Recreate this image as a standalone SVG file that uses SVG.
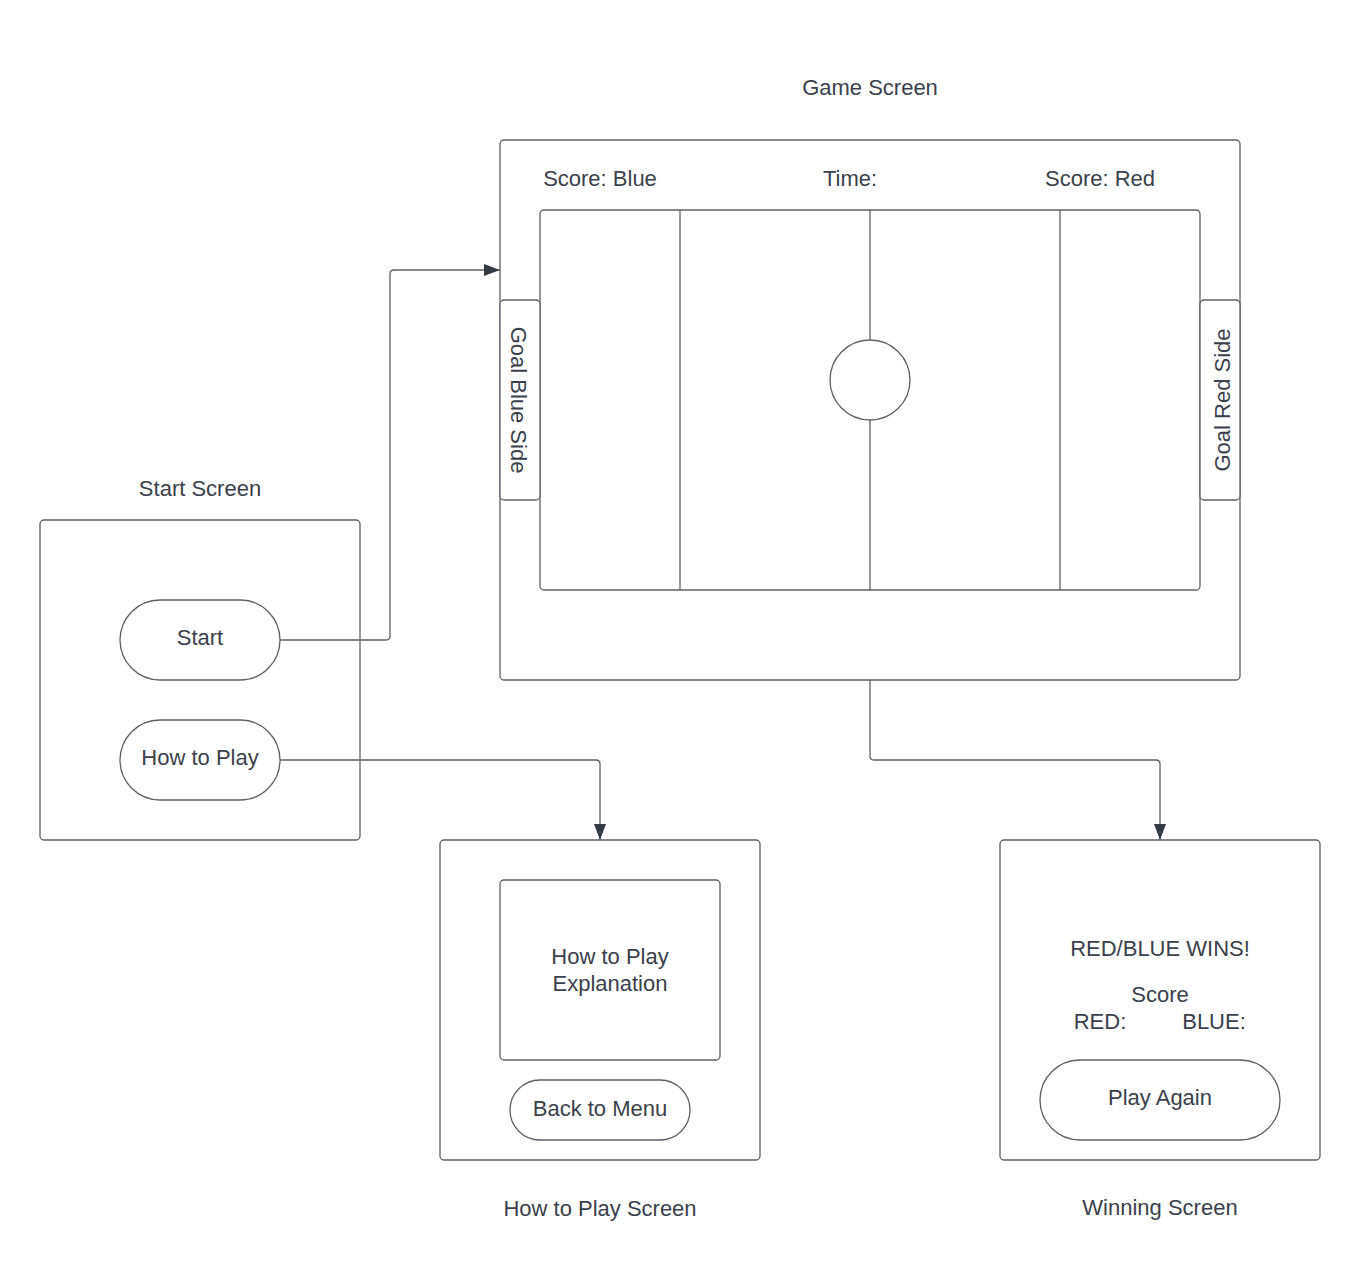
<svg xmlns="http://www.w3.org/2000/svg" width="1360" height="1282" viewBox="0 0 1360 1282">
  <style>
    .box { fill: #ffffff; stroke: #5e6064; stroke-width: 1.3; }
    .line { fill: none; stroke: #5e6064; stroke-width: 1.3; }
    .conn { fill: none; stroke: #5e6064; stroke-width: 1.3; }
    .t { font-family: "Liberation Sans", Arial, sans-serif; font-size: 22px; fill: #3a414a; text-anchor: middle; dominant-baseline: central; }
  </style>
  <defs>
    <marker id="arrow" viewBox="0 0 16 14" refX="16" refY="7" markerWidth="16" markerHeight="14" markerUnits="userSpaceOnUse" orient="auto">
      <path d="M0,1 L16,7 L0,13 Z" fill="#333a44"/>
    </marker>
  </defs>
  <rect width="1360" height="1282" fill="#ffffff"/>

  <!-- Game screen -->
  <g id="game-screen">
    <text class="t" x="870" y="87">Game Screen</text>
    <rect class="box" x="500" y="140" width="740" height="540" rx="4"/>
    <text class="t" x="600" y="178">Score: Blue</text>
    <text class="t" x="850" y="178">Time:</text>
    <text class="t" x="1100" y="178">Score: Red</text>
    <rect class="box" x="540" y="210" width="660" height="380" rx="4"/>
    <line class="line" x1="680" y1="210" x2="680" y2="590"/>
    <line class="line" x1="1060" y1="210" x2="1060" y2="590"/>
    <line class="line" x1="870" y1="210" x2="870" y2="340"/>
    <line class="line" x1="870" y1="420" x2="870" y2="590"/>
    <circle class="box" cx="870" cy="380" r="40"/>
  </g>
  <g id="goal-blue">
    <rect class="box" x="500" y="300" width="40" height="200" rx="4"/>
    <text class="t" transform="translate(518 400) rotate(90)">Goal Blue Side</text>
  </g>
  <g id="goal-red">
    <rect class="box" x="1200" y="300" width="40" height="200" rx="4"/>
    <text class="t" transform="translate(1222 400) rotate(-90)">Goal Red Side</text>
  </g>

  <!-- Start screen -->
  <g id="start-screen">
    <text class="t" x="200" y="488">Start Screen</text>
    <rect class="box" x="40" y="520" width="320" height="320" rx="4"/>
  </g>
  <g id="start-button">
    <rect class="box" x="120" y="600" width="160" height="80" rx="40"/>
    <text class="t" x="200" y="637">Start</text>
  </g>
  <g id="how-to-play-button">
    <rect class="box" x="120" y="720" width="160" height="80" rx="40"/>
    <text class="t" x="200" y="757">How to Play</text>
  </g>

  <!-- How to play screen -->
  <g id="how-to-play-screen">
    <rect class="box" x="440" y="840" width="320" height="320" rx="4"/>
    <rect class="box" x="500" y="880" width="220" height="180" rx="4"/>
    <text class="t" x="610" y="956">How to Play</text>
    <text class="t" x="610" y="983">Explanation</text>
    <text class="t" x="600" y="1208">How to Play Screen</text>
  </g>
  <g id="back-to-menu-button">
    <rect class="box" x="510" y="1080" width="180" height="60" rx="30"/>
    <text class="t" x="600" y="1108">Back to Menu</text>
  </g>

  <!-- Winning screen -->
  <g id="winning-screen">
    <rect class="box" x="1000" y="840" width="320" height="320" rx="4"/>
    <text class="t" x="1160" y="948">RED/BLUE WINS!</text>
    <text class="t" x="1160" y="994">Score</text>
    <text class="t" x="1100" y="1021">RED:</text>
    <text class="t" x="1214" y="1021">BLUE:</text>
    <text class="t" x="1160" y="1207">Winning Screen</text>
  </g>
  <g id="play-again-button">
    <rect class="box" x="1040" y="1060" width="240" height="80" rx="40"/>
    <text class="t" x="1160" y="1097">Play Again</text>
  </g>

  <!-- Connectors -->
  <g id="connectors">
    <path class="conn" d="M280,640 H386 Q390,640 390,636 V274 Q390,270 394,270 H500" marker-end="url(#arrow)"/>
    <path class="conn" d="M280,760 H596 Q600,760 600,764 V840" marker-end="url(#arrow)"/>
    <path class="conn" d="M870,680 V756 Q870,760 874,760 H1156 Q1160,760 1160,764 V840" marker-end="url(#arrow)"/>
  </g>
</svg>
